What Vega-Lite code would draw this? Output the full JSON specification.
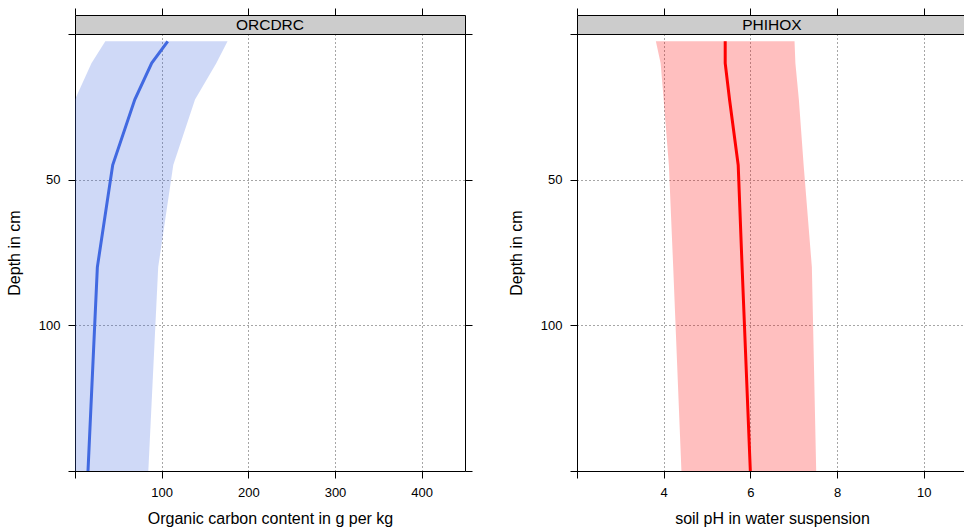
{
  "$schema": "https://vega.github.io/schema/vega-lite/v6.json",
  "padding": {"left": 5, "top": 7, "right": 0, "bottom": 0},
  "bounds": "flush",
  "columns": 2,
  "spacing": {"row": 0, "column": 112},
  "config": {
    "font": "Liberation Sans",
    "view": {"stroke": "black", "strokeWidth": 1},
    "axis": {
      "domain": false,
      "tickColor": "black", "tickSize": 7, "tickWidth": 1,
      "labelFont": "Liberation Sans", "labelFontSize": 13, "labelColor": "black", "labelPadding": 8, "labelOverlap": false, "labelFlush": false,
      "titleFont": "Liberation Sans", "titleFontSize": 16, "titleFontWeight": "normal", "titleColor": "black",
      "gridColor": "#000000", "gridDash": [1, 3], "gridOpacity": 0.7, "gridWidth": 1
    },
    "axisBottom": {"titlePadding": 11},
    "axisLeft": {"titlePadding": 16}
  },
  "datasets": {
    "orc": [
      {"depth": 2.5, "mean": 107, "lo": 35, "hi": 176},
      {"depth": 10, "mean": 88.5, "lo": 19, "hi": 163},
      {"depth": 22.5, "mean": 69, "lo": 0, "hi": 138.5},
      {"depth": 45, "mean": 43.5, "lo": 0, "hi": 113.4},
      {"depth": 80, "mean": 25.8, "lo": 0, "hi": 96},
      {"depth": 150, "mean": 15, "lo": 0, "hi": 84.6}
    ],
    "ph": [
      {"depth": 2.5, "mean": 5.42, "lo": 3.82, "hi": 7.02},
      {"depth": 10, "mean": 5.42, "lo": 3.93, "hi": 7.04},
      {"depth": 22.5, "mean": 5.52, "lo": 4.0, "hi": 7.12},
      {"depth": 45, "mean": 5.72, "lo": 4.12, "hi": 7.23},
      {"depth": 80, "mean": 5.81, "lo": 4.22, "hi": 7.42},
      {"depth": 150, "mean": 6.0, "lo": 4.41, "hi": 7.52}
    ]
  },
  "concat": [
    {
      "width": 390, "height": 19,
      "data": {"values": [{"panel": "ORCDRC"}]},
      "view": {"fill": "#cccccc", "stroke": "black", "strokeWidth": 1},
      "mark": {"type": "text", "fontSize": 15.5, "font": "Liberation Sans", "color": "black", "baseline": "middle", "align": "center"},
      "encoding": {"text": {"field": "panel", "type": "nominal"}}
    },
    {
      "width": 390, "height": 19,
      "data": {"values": [{"panel": "PHIHOX"}]},
      "view": {"fill": "#cccccc", "stroke": "black", "strokeWidth": 1},
      "mark": {"type": "text", "fontSize": 15.5, "font": "Liberation Sans", "color": "black", "baseline": "middle", "align": "center"},
      "encoding": {"text": {"field": "panel", "type": "nominal"}}
    },
    {
      "width": 390, "height": 437,
      "data": {"name": "orc"},
      "resolve": {"axis": {"x": "independent", "y": "independent"}},
      "layer": [
        {
          "mark": {"type": "area", "orient": "horizontal", "color": "royalblue", "opacity": 0.25},
          "encoding": {
            "y": {"field": "depth", "type": "quantitative", "scale": {"domain": [0, 150], "reverse": true, "nice": false, "zero": false},
              "axis": {"orient": "left", "values": [0, 50, 100, 150], "labelExpr": "datum.value == 50 || datum.value == 100 ? datum.label : ''", "title": "Depth in cm", "grid": true}},
            "x": {"field": "lo", "type": "quantitative", "scale": {"domain": [0, 450], "nice": false, "zero": false},
              "axis": {"orient": "bottom", "values": [0, 100, 200, 300, 400], "labelExpr": "datum.value == 0 ? '' : datum.label", "title": "Organic carbon content in g per kg", "grid": true}},
            "x2": {"field": "hi"}
          }
        },
        {
          "mark": {"type": "line", "color": "royalblue", "strokeWidth": 3},
          "encoding": {
            "y": {"field": "depth", "type": "quantitative",
              "axis": {"orient": "right", "values": [0, 50, 100, 150], "labels": false, "title": null, "grid": false}},
            "x": {"field": "mean", "type": "quantitative",
              "axis": {"orient": "top", "offset": 19, "values": [0, 100, 200, 300, 400], "labels": false, "title": null, "grid": false}},
            "order": {"field": "depth", "type": "quantitative"}
          }
        }
      ]
    },
    {
      "width": 390, "height": 437,
      "data": {"name": "ph"},
      "resolve": {"axis": {"x": "independent", "y": "independent"}},
      "layer": [
        {
          "mark": {"type": "area", "orient": "horizontal", "color": "red", "opacity": 0.25},
          "encoding": {
            "y": {"field": "depth", "type": "quantitative", "scale": {"domain": [0, 150], "reverse": true, "nice": false, "zero": false},
              "axis": {"orient": "left", "values": [0, 50, 100, 150], "labelExpr": "datum.value == 50 || datum.value == 100 ? datum.label : ''", "title": "Depth in cm", "grid": true}},
            "x": {"field": "lo", "type": "quantitative", "scale": {"domain": [2, 11], "nice": false, "zero": false},
              "axis": {"orient": "bottom", "values": [2, 4, 6, 8, 10], "labelExpr": "datum.value == 2 ? '' : datum.label", "title": "soil pH in water suspension", "grid": true}},
            "x2": {"field": "hi"}
          }
        },
        {
          "mark": {"type": "line", "color": "red", "strokeWidth": 3},
          "encoding": {
            "y": {"field": "depth", "type": "quantitative",
              "axis": {"orient": "right", "values": [0, 50, 100, 150], "labels": false, "title": null, "grid": false}},
            "x": {"field": "mean", "type": "quantitative",
              "axis": {"orient": "top", "offset": 19, "values": [2, 4, 6, 8, 10], "labels": false, "title": null, "grid": false}},
            "order": {"field": "depth", "type": "quantitative"}
          }
        }
      ]
    }
  ]
}
